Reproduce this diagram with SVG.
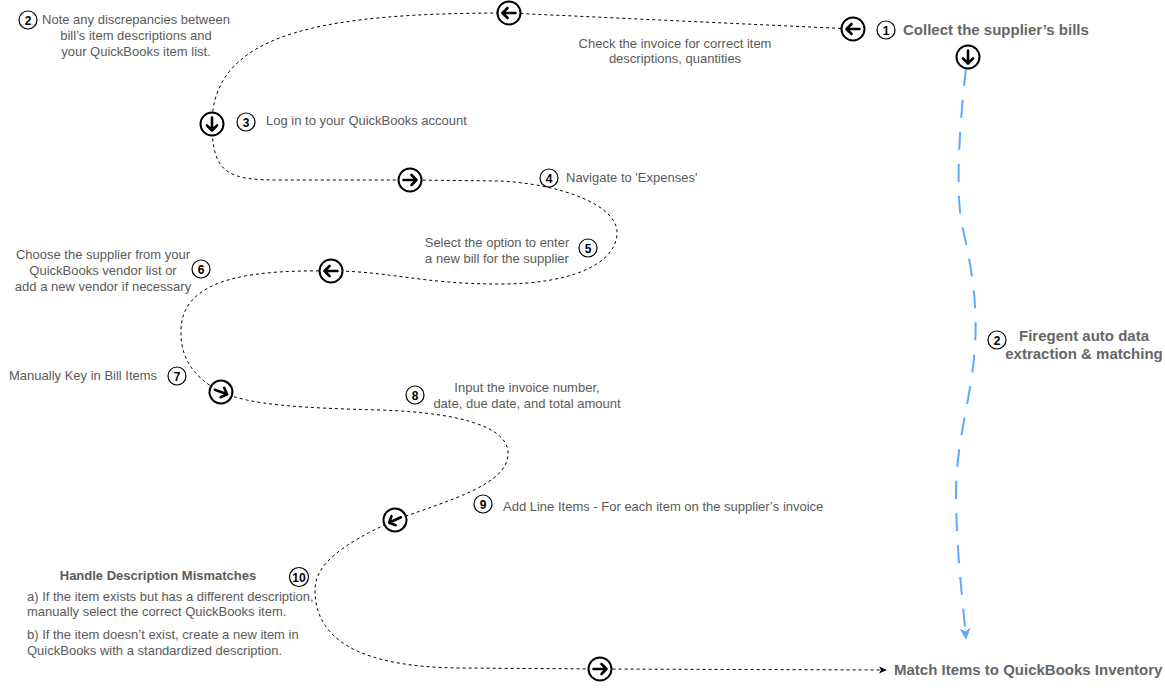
<svg xmlns="http://www.w3.org/2000/svg" xmlns:xlink="http://www.w3.org/1999/xlink" width="1165" height="690" viewBox="0 0 1165 690">
<style>
  .t{font-family:"Liberation Sans",Arial,Helvetica,sans-serif;font-size:13px;fill:#5a5a5a}
  .tb{font-family:"Liberation Sans",Arial,Helvetica,sans-serif;font-size:15px;font-weight:bold;fill:#666}
  .tb13{font-family:"Liberation Sans",Arial,Helvetica,sans-serif;font-size:13px;font-weight:bold;fill:#5a5a5a}
  .badge{fill:#fff;stroke:#000;stroke-width:1.2}
  .bn{font-family:"Liberation Sans",Arial,Helvetica,sans-serif;font-size:12px;font-weight:bold;fill:#000;text-anchor:middle}
  .wpc{fill:#fff;stroke:#000;stroke-width:2}
  .wpa{fill:none;stroke:#000;stroke-width:2.6;stroke-linecap:round;stroke-linejoin:round}
  .flow{fill:none;stroke:#000;stroke-width:1;stroke-dasharray:3 3}
  .blue{fill:none;stroke:#5aaaff;stroke-width:2;stroke-dasharray:18 14}
</style>
<defs>
  <marker id="mBlack" markerUnits="userSpaceOnUse" markerWidth="12" markerHeight="12" viewBox="-10 -6 12 12" refX="0" refY="0" orient="auto">
    <path d="M0,0 L-8,-3.5 L-6,0 L-8,3.5 Z" fill="#000"/>
  </marker>
  <marker id="mBlue" markerUnits="userSpaceOnUse" markerWidth="16" markerHeight="16" viewBox="-14 -8 16 16" refX="0" refY="0" orient="auto">
    <path d="M0,0 L-12,-5.5 L-8.5,0 L-12,5.5 Z" fill="#5aaaff"/>
  </marker>
  <g id="wp">
    <circle class="wpc" cx="0" cy="0" r="11.5"/>
    <path class="wpa" d="M-6.5,0 H6.5 M1.5,-5 L6.5,0 L1.5,5"/>
  </g>
</defs>

<g id="connectors">
  <path class="flow" marker-end="url(#mBlack)" d="M853,29 L509,13 C330,13 212,30 212,124 C212,175 230,180 280,180 L410,180 L500,181 C560,184 620,205 617,235 C614,265 570,284 500,284 C420,284 390,271 331,271 C260,270 182,275 181,330 C180,362 198,380 221,392 C250,405 300,408 380,410 C470,413 510,430 508,455 C506,485 450,500 395,520 C340,545 315,565 315,590 C315,640 360,667 460,668 L600,669 L887,670"/>
  <path class="blue" marker-end="url(#mBlue)" d="M966,68 C960,120 955,190 962,225 C970,260 978,300 975,345 C972,400 955,440 956,500 C957,560 963,600 966,640"/>
</g>

<g id="waypoints">
  <use id="wp-a1" xlink:href="#wp" href="#wp" transform="translate(853,29) rotate(180)"/>
  <use id="wp-a2" xlink:href="#wp" href="#wp" transform="translate(509,13) rotate(180)"/>
  <use id="wp-a3" xlink:href="#wp" href="#wp" transform="translate(212,124) rotate(90)"/>
  <use id="wp-a4" xlink:href="#wp" href="#wp" transform="translate(410,180)"/>
  <use id="wp-a5" xlink:href="#wp" href="#wp" transform="translate(331,271) rotate(180)"/>
  <use id="wp-a6" xlink:href="#wp" href="#wp" transform="translate(221,392) rotate(20)"/>
  <use id="wp-a7" xlink:href="#wp" href="#wp" transform="translate(395,520) rotate(155)"/>
  <use id="wp-a8" xlink:href="#wp" href="#wp" transform="translate(600,669)"/>
  <use id="wp-a9" xlink:href="#wp" href="#wp" transform="translate(968,57) rotate(90)"/>
</g>

<g id="step1">
  <circle class="badge" cx="886" cy="30" r="9"/><text class="bn" x="886" y="34.5">1</text>
  <text class="tb" x="903" y="35">Collect the supplier’s bills</text>
</g>
<g id="check-invoice">
  <text class="t" x="675" y="48" text-anchor="middle">Check the invoice for correct item</text>
  <text class="t" x="675" y="63" text-anchor="middle">descriptions, quantities</text>
</g>
<g id="step2">
  <circle class="badge" cx="28" cy="20" r="9"/><text class="bn" x="28" y="24.5">2</text>
  <text class="t" x="136" y="24" text-anchor="middle">Note any discrepancies between</text>
  <text class="t" x="136" y="40" text-anchor="middle">bill’s item descriptions and</text>
  <text class="t" x="136" y="56" text-anchor="middle">your QuickBooks item list.</text>
</g>
<g id="step3">
  <circle class="badge" cx="246" cy="122" r="9"/><text class="bn" x="246" y="126.5">3</text>
  <text class="t" x="266" y="125">Log in to your QuickBooks account</text>
</g>
<g id="step4">
  <circle class="badge" cx="549" cy="178" r="9"/><text class="bn" x="549" y="182.5">4</text>
  <text class="t" x="566" y="182">Navigate to 'Expenses'</text>
</g>
<g id="step5">
  <circle class="badge" cx="588" cy="248" r="9"/><text class="bn" x="588" y="252.5">5</text>
  <text class="t" x="497" y="247" text-anchor="middle">Select the option to enter</text>
  <text class="t" x="497" y="263" text-anchor="middle">a new bill for the supplier</text>
</g>
<g id="step6">
  <circle class="badge" cx="201" cy="269" r="9"/><text class="bn" x="201" y="273.5">6</text>
  <text class="t" x="103" y="259" text-anchor="middle">Choose the supplier from your</text>
  <text class="t" x="103" y="275" text-anchor="middle">QuickBooks vendor list or</text>
  <text class="t" x="103" y="291" text-anchor="middle">add a new vendor if necessary</text>
</g>
<g id="step7">
  <circle class="badge" cx="177" cy="376" r="9"/><text class="bn" x="177" y="380.5">7</text>
  <text class="t" x="9" y="380">Manually Key in Bill Items</text>
</g>
<g id="step8">
  <circle class="badge" cx="415" cy="395" r="9"/><text class="bn" x="415" y="399.5">8</text>
  <text class="t" x="527" y="392" text-anchor="middle">Input the invoice number,</text>
  <text class="t" x="527" y="408" text-anchor="middle">date, due date, and total amount</text>
</g>
<g id="step9">
  <circle class="badge" cx="483" cy="504" r="9"/><text class="bn" x="483" y="508.5">9</text>
  <text class="t" x="503" y="511">Add Line Items - For each item on the supplier’s invoice</text>
</g>
<g id="step10">
  <circle class="badge" cx="299" cy="577" r="9.5"/><text class="bn" x="299" y="581.5">10</text>
  <text class="tb13" x="158" y="580" text-anchor="middle">Handle Description Mismatches</text>
  <text class="t" x="27" y="601">a) If the item exists but has a different description,</text>
  <text class="t" x="27" y="616">manually select the correct QuickBooks item.</text>
  <text class="t" x="27" y="639">b) If the item doesn’t exist, create a new item in</text>
  <text class="t" x="27" y="655">QuickBooks with a standardized description.</text>
</g>
<g id="firegent">
  <circle class="badge" cx="997" cy="340" r="9"/><text class="bn" x="997" y="344.5">2</text>
  <text class="tb" x="1084" y="341" text-anchor="middle">Firegent auto data</text>
  <text class="tb" x="1084" y="359" text-anchor="middle">extraction &amp; matching</text>
</g>
<g id="match">
  <text class="tb" x="894" y="675">Match Items to QuickBooks Inventory</text>
</g>
</svg>
